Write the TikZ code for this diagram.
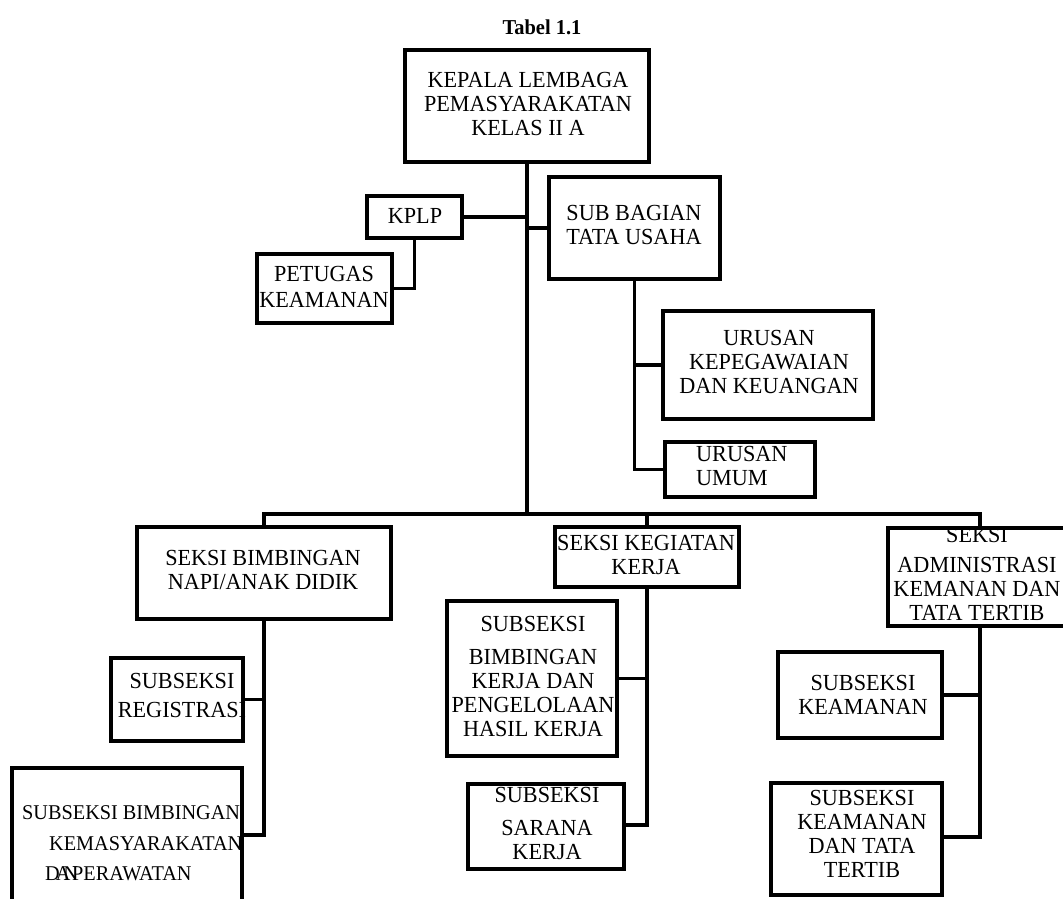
\documentclass[tikz,border=0pt]{standalone}
\usepackage{fontspec}
\setmainfont[FakeStretch=0.965]{Liberation Serif}
\begin{document}
\begin{tikzpicture}[x=1pt,y=-1pt,
  box/.style={draw,line width=3.6pt,rectangle,inner sep=0pt},
  txt/.style={inner sep=0pt,align=center,font=\fontsize{23pt}{24pt}\selectfont},
  conn/.style={line width=3.6pt}]
\useasboundingbox (0,0) rectangle (1063,898);
\clip (0,0) rectangle (1063,898);
% title
\node[inner sep=0pt,font=\bfseries\fontsize{21.2pt}{24pt}\selectfont] (title) at (542,27) {Tabel 1.1};
% boxes
\newcommand{\bx}[5]{\node[box,minimum width={#4-#2},minimum height={#5-#3}] (#1) at ({(#2+#4)/2},{(#3+#5)/2}) {};}
\bx{kepala}{405}{50}{649}{162}
\bx{kplp}{367}{196}{462}{238}
\bx{petugas}{257}{254}{392}{323}
\bx{subbag}{549}{177}{720}{279}
\bx{urkeu}{663}{311}{873}{419}
\bx{urumum}{665}{442}{815}{497}
\bx{napi}{137}{527}{391}{619}
\bx{reg}{111}{658}{243}{741}
\bx{kemas}{12}{768}{242}{930}
\bx{kegiatan}{555}{527}{739}{587}
\bx{bker}{447}{601}{617}{756}
\bx{sarana}{468}{784}{624}{869}
\bx{admin}{888}{528}{1072}{626}
\bx{keam}{778}{652}{942}{738}
\bx{kdt}{771}{783}{942}{895}
% texts
\node[txt] (kepala-t) at (528,104) {KEPALA LEMBAGA\\PEMASYARAKATAN\\KELAS II A};
\node[txt] (kplp-t) at (415,216) {KPLP};
\node[txt] (petugas-t) at (324,287) {PETUGAS\\[2pt]KEAMANAN};
\node[txt] (subbag-t) at (634,225) {SUB BAGIAN\\TATA USAHA};
\node[txt] (urkeu-t) at (769,362) {URUSAN\\KEPEGAWAIAN\\DAN KEUANGAN};
\node[txt,anchor=west,align=left] (urumum-t) at (696,466) {URUSAN\\UMUM};
\node[txt] (napi-t) at (263,570) {SEKSI BIMBINGAN\\NAPI/ANAK DIDIK};
\node[txt] (reg-t) at (182,695) {SUBSEKSI\\[5pt]REGISTRASI};
\node[txt,anchor=west,align=left,font=\fontsize{21pt}{24pt}\selectfont] (kemas-t) at (22,843) {SUBSEKSI BIMBINGAN\\[7pt]\hspace*{27pt}KEMASYARAKATAN\\[6pt]\hspace*{23pt}D\kern-4pt A\kern-7pt N\kern-6pt PERAWATAN};
\node[txt] (kegiatan-t) at (646,555) {SEKSI KEGIATAN\\KERJA};
\node[txt] (bker-t) at (533,676) {SUBSEKSI\\[9pt]BIMBINGAN\\KERJA DAN\\PENGELOLAAN\\HASIL KERJA};
\node[txt] (sarana-t) at (547,823.5) {SUBSEKSI\\[9pt]SARANA\\KERJA};
\node[txt] (admin-t) at (977,573.5) {SEKSI\\[6pt]ADMINISTRASI\\KEMANAN DAN\\TATA TERTIB};
\node[txt] (keam-t) at (863,695) {SUBSEKSI\\KEAMANAN};
\node[txt] (kdt-t) at (862,834) {SUBSEKSI\\KEAMANAN\\DAN TATA\\TERTIB};
% junction coordinates
\coordinate (bus) at (527,514);
\coordinate (kemasin) at (242,835);
\coordinate (sarin) at (624,825);
\coordinate (kdtin) at (942,837);
% connectors
\draw[conn] (kepala.south) -- (bus);
\draw[conn] (kplp.east) -- (kplp.east -| kepala.south);
\draw[conn] (subbag.west) -- (subbag.west -| kepala.south);
\draw[conn] (kplp.south) |- (petugas.east);
\draw[conn] (subbag.south) |- (urumum.west);
\draw[conn] (urkeu.west) -- (urkeu.west -| subbag.south);
\draw[conn] (napi.north) |- (bus) -| (admin.north);
\draw[conn] (kegiatan.north) -- (kegiatan.north |- bus);
\draw[conn] (napi.south) |- (kemasin);
\draw[conn] (reg.east) -- (reg.east -| napi.south);
\draw[conn] (kegiatan.south) |- (sarin);
\draw[conn] (bker.east) -- (bker.east -| kegiatan.south);
\draw[conn] (admin.south) |- (kdtin);
\draw[conn] (keam.east) -- (keam.east -| admin.south);
\end{tikzpicture}
\end{document}
